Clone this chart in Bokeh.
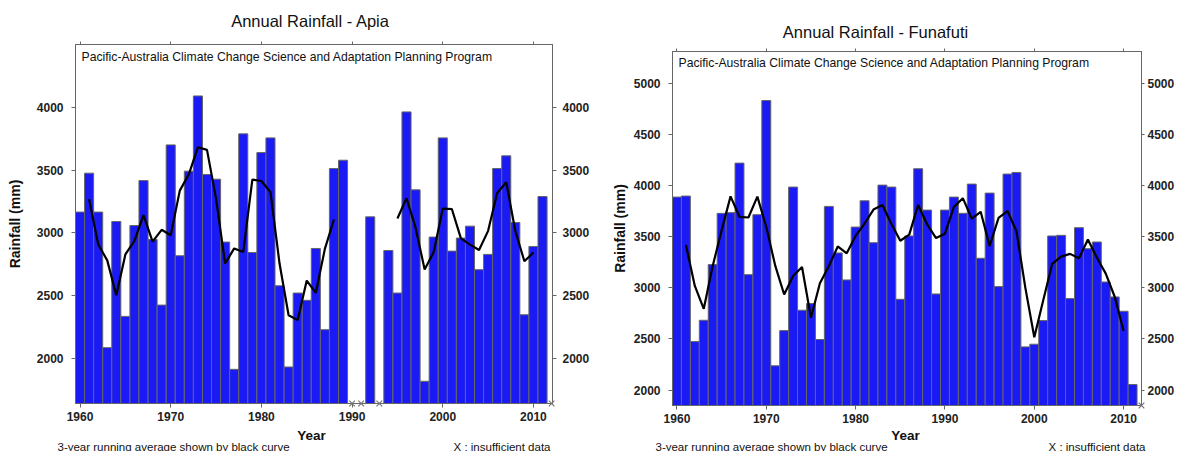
import numpy as np
from bokeh.plotting import figure
from bokeh.models import Range1d, FixedTicker, LinearAxis, Label
from bokeh.layouts import row, column
from bokeh.core.properties import value
from bokeh.embed import file_html
from bokeh.resources import INLINE

# ---------------- data ----------------
years = list(range(1960, 2013))

apia_rain = [3165, 3475, 3165, 2085, 3090, 2334, 3058, 3416, 2947, 2424,
             3700, 2817, 3491, 4090, 3464, 3427, 2926, 1912, 3788, 2843,
             3639, 3756, 2578, 1931, 2520, 2462, 2875, 2228, 3512, 3578,
             None, None, 3127, None, 2859, 2520, 3963, 3342, 1817, 2966,
             3756, 2854, 2958, 3053, 2706, 2828, 3512, 3613, 3082, 2347,
             2891, 3289, None]

funafuti_rain = [3887, 3897, 2475, 2683, 3227, 3728, 3735, 4219, 3129, 3715,
                 4831, 2238, 2582, 3985, 2781, 2846, 2495, 3796, 3341, 3077,
                 3594, 3851, 3441, 4004, 3985, 2888, 3507, 4164, 3760, 2940,
                 3760, 3887, 3728, 4014, 3289, 3926, 3012, 4112, 4128, 2423,
                 2449, 2680, 3507, 3513, 2895, 3588, 3383, 3448, 3057, 2911,
                 2771, 2055, None]

x_ticks = [1960, 1970, 1980, 1990, 2000, 2010]
apia_y_ticks = [2000, 2500, 3000, 3500, 4000]
funafuti_y_ticks = [2000, 2500, 3000, 3500, 4000, 4500, 5000]

title_apia = "Annual Rainfall - Apia"
title_funafuti = "Annual Rainfall - Funafuti"
subtitle = "Pacific-Australia Climate Change Science and Adaptation Planning Program"
footer_left = "3-year running average shown by black curve"
footer_right = "X : insufficient data"
x_label = "Year"
y_label = "Rainfall (mm)"

FONT = "Liberation Sans"
BAR_FILL = "#1a1af5"
EDGE = "#666666"
TXT = "#111111"


def running3(vals):
    v = np.array([np.nan if a is None else a for a in vals], dtype=float)
    ra = np.full_like(v, np.nan)
    ra[1:-1] = (v[:-2] + v[1:-1] + v[2:]) / 3.0
    return ra


def style_axis(ax, tick_out=4, standoff=8):
    ax.axis_line_color = EDGE
    ax.major_tick_line_color = EDGE
    ax.major_tick_in = 0
    ax.major_tick_out = tick_out
    ax.minor_tick_line_color = None
    ax.major_label_text_font = FONT
    ax.major_label_text_font_size = "12px"
    ax.major_label_text_font_style = "bold"
    ax.major_label_text_color = "#222222"
    ax.major_label_standoff = standoff


def no_align(f):
    try:
        f.frame_align = False
    except Exception:
        pass


def text_fig(width, height):
    f = figure(width=width, height=height, output_backend="svg", toolbar_location=None,
               x_range=Range1d(0, width), y_range=Range1d(0, height),
               x_axis_location=None, y_axis_location=None,
               min_border_left=0, min_border_right=0, min_border_top=0,
               min_border_bottom=0)
    f.grid.visible = False
    f.outline_line_color = None
    no_align(f)
    return f


def put(f, x, y, text, size, align="left", style="normal"):
    f.text(x=[x], y=[y], text=[text], text_font=value(FONT), text_font_size=size,
           text_color=TXT, text_align=align, text_baseline="middle",
           text_font_style=style)


def make_chart(title, vals, y_ticks, y_start, y_end, x_end, width,
               head_h, main_h, foot_h, bl, br, bt, bb,
               ylab_standoff, right_tick_out, right_standoff, pos):
    head = text_fig(width, head_h)
    put(head, pos["title"][0], pos["title"][1], title, "16.5px", "center")

    p = figure(width=width, height=main_h, output_backend="svg", toolbar_location=None,
               x_range=Range1d(1959.5, x_end), y_range=Range1d(y_start, y_end),
               min_border_left=bl, min_border_right=br, min_border_top=bt,
               min_border_bottom=bb)
    no_align(p)
    p.grid.visible = False
    p.outline_line_color = EDGE
    p.outline_line_width = 1

    p.xaxis.ticker = FixedTicker(ticks=x_ticks)
    p.yaxis.ticker = FixedTicker(ticks=y_ticks)
    style_axis(p.xaxis[0], tick_out=4, standoff=4)
    style_axis(p.yaxis[0], tick_out=4, standoff=8)
    p.yaxis.axis_label = y_label
    p.yaxis.axis_label_text_font = FONT
    p.yaxis.axis_label_text_font_size = "14px"
    p.yaxis.axis_label_text_font_style = "bold"
    p.yaxis.axis_label_text_color = TXT
    p.yaxis.axis_label_standoff = ylab_standoff

    ra = LinearAxis(ticker=FixedTicker(ticks=y_ticks))
    style_axis(ra, tick_out=right_tick_out, standoff=right_standoff)
    p.add_layout(ra, "right")

    ta = LinearAxis(ticker=FixedTicker(ticks=x_ticks),
                    major_label_overrides={t: "" for t in x_ticks})
    style_axis(ta, tick_out=3, standoff=0)
    p.add_layout(ta, "above")

    bx = [y for y, v in zip(years, vals) if v is not None]
    by = [v for v in vals if v is not None]
    p.vbar(x=bx, top=by, bottom=0, width=1.0, fill_color=BAR_FILL,
           line_color=EDGE, line_width=1)

    p.line(x=years, y=running3(vals), line_color="black", line_width=2.2)

    mx = [y for y, v in zip(years, vals) if v is None]
    p.scatter(x=mx, y=[y_start] * len(mx), marker="x", size=8,
              line_color="#777777", line_width=1.2, level="overlay")

    p.add_layout(Label(x=pos["sub"][0], y=pos["sub"][1], x_units="screen",
                       y_units="screen", text=subtitle, text_font=FONT,
                       text_font_size="12.2px", text_color=TXT, text_align="left",
                       text_baseline="middle"))

    foot = text_fig(width, foot_h)
    put(foot, pos["year"][0], pos["year"][1], x_label, "13.5px", "center", "bold")
    put(foot, pos["fl"][0], pos["fl"][1], footer_left, "11.5px", "left")
    put(foot, pos["fr"][0], pos["fr"][1], footer_right, "11.5px", "right")
    return column(head, p, foot)


c1 = make_chart(title_apia, apia_rain, apia_y_ticks, 1640, 4500, 2012.1,
                width=606, head_h=34, main_h=393, foot_h=24,
                bl=75, br=54, bt=10, bb=24, ylab_standoff=11,
                right_tick_out=4, right_standoff=6,
                pos=dict(title=(310, 14), sub=(6, 347), year=(311, 16),
                         fl=(57, 5), fr=(550, 5)))

c2 = make_chart(title_funafuti, funafuti_rain, funafuti_y_ticks, 1850, 5310, 2012.0,
                width=573, head_h=42, main_h=387, foot_h=22,
                bl=66, br=38, bt=9, bb=24, ylab_standoff=3,
                right_tick_out=3, right_standoff=3,
                pos=dict(title=(269, 11), sub=(6, 343), year=(299, 16),
                         fl=(49, 5), fr=(539, 5)))

layout = row(c1, c2)
open("out.html", "w").write(file_html(layout, INLINE))
